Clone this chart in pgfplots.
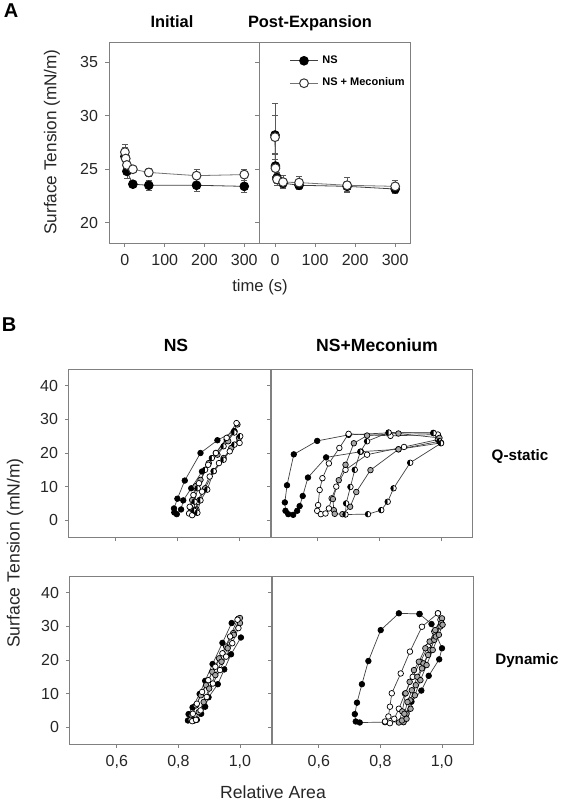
\documentclass[border=0pt]{standalone}
\usepackage{fontspec}
\setmainfont{Liberation Sans}
\usepackage{pgfplots}
\pgfplotsset{compat=1.18}
\usetikzlibrary{plotmarks}

\pgfplotsset{
  base/.style={scale only axis,
    axis line style={black!50,line width=0.5pt},
    tick style={black!50,line width=0.45pt},
    tick align=outside, major tick length=2pt,
    xtick pos=lower, ytick pos=left,
    /pgf/number format/assume math mode=true,
    tick label style={font=\fontsize{8}{9}\selectfont, text=black!85},
  },
  Aax/.style={base, width=75pt, height=100.5pt, xmin=-40, xmax=337, ymin=18.1, ymax=36.9,
    xtick={0,100,200,300}, ytick={20,25,30,35}},
  Bax/.style={base, width=101pt, height=84pt, xmin=0.448, xmax=1.104, ymin=-5, ymax=45,
    xtick={0.6,0.8,1.0}, ytick={0,10,20,30,40}},
  eb/.style={error bars/y dir=both, error bars/y explicit,
    error bars/error bar style={black!65,line width=0.4pt},
    error bars/error mark options={rotate=90, black!65, mark size=1.5pt, line width=0.4pt}},
  nsA/.style={black!75, line width=0.4pt, mark=*, mark size=2.2pt,
    mark options={fill=black, draw=black, line width=0.4pt}, eb},
  mecA/.style={black!55, line width=0.4pt, mark=*, mark size=2.2pt,
    mark options={fill=white, draw=black!80, line width=0.5pt}, eb},
  bl/.style={black!75, line width=0.35pt, mark=*, mark size=1.4pt,
    mark options={draw=black, fill=black, line width=0.35pt}},
  wh/.style={black!75, line width=0.35pt, mark=*, mark size=1.4pt,
    mark options={draw=black, fill=white, line width=0.35pt}},
  gr/.style={black!75, line width=0.35pt, mark=*, mark size=1.4pt,
    mark options={draw=black, fill=black!35, line width=0.35pt}},
  hf/.style={black!75, line width=0.35pt, mark=halfcircle*, mark size=1.4pt,
    mark options={draw=black, fill=black, rotate=90, line width=0.35pt}},
}

\begin{document}
\begin{tikzpicture}
\useasboundingbox (0pt,0pt) rectangle (281pt,-402.5pt);

% ---------------- Panel A, Initial
\begin{axis}[Aax, at={(54.5pt,-121.5pt)}, anchor=south west]
\addplot[nsA] coordinates {(0,26.2) +- (0,0.8) (5,24.8) +- (0,0.7) (20,23.6) +- (0,0.3) (60,23.5) +- (0,0.5) (180,23.5) +- (0,0.6) (300,23.4) +- (0,0.6)};
\addplot[mecA] coordinates {(0,26.6) +- (0,0.7) (2,26.0) +- (0,0.5) (5,25.4) +- (0,0.4) (20,25.0) +- (0,0.3) (60,24.7) +- (0,0.4) (180,24.4) +- (0,0.6) (300,24.5) +- (0,0.5)};
\end{axis}

% ---------------- Panel A, Post-Expansion
\begin{axis}[Aax, at={(129.5pt,-121.5pt)}, anchor=south west, width=75.5pt, yticklabels={},
  legend style={at={(0.2,0.955)}, anchor=north west, draw=none, fill=none,
    font=\bfseries\fontsize{5.5}{6.5}\selectfont, row sep=1.8pt, inner sep=0pt},
  legend cell align=left,
  legend image code/.code={\draw[mark repeat=2,mark phase=2,#1] plot coordinates {(0pt,0pt) (7pt,0pt) (14pt,0pt)};}]
\addplot[nsA] coordinates {(0,28.2) +- (0,1.8) (1,25.3) +- (0,1.2) (5,24.2) +- (0,0.5) (20,23.7) +- (0,0.4) (60,23.5) +- (0,0.4) (180,23.4) +- (0,0.5) (300,23.15) +- (0,0.4)};
\addlegendentry{NS}
\addplot[mecA] coordinates {(0,28.0) +- (0,3.2) (1,25.1) +- (0,0.8) (5,24.05) +- (0,0.6) (20,23.8) +- (0,0.6) (60,23.75) +- (0,0.6) (180,23.5) +- (0,0.7) (300,23.4) +- (0,0.6)};
\addlegendentry{NS + Meconium}
\end{axis}

% ---------------- Panel B, top left (NS, Q-static)
\begin{axis}[Bax, at={(34.5pt,-268.5pt)}, anchor=south west, xticklabels={}]
\addplot[bl] coordinates {(0.985,26.5) (0.930,23.8) (0.875,20.0) (0.824,11.8) (0.800,6.4) (0.789,3.5) (0.790,2.3) (0.798,1.8) (0.812,3.2) (0.819,5.9) (0.845,9.5) (0.880,14.5) (0.925,20.0) (0.960,24.0) (0.985,26.5)};
\addplot[gr] coordinates {(0.995,28.5) (0.965,23.5) (0.930,19.5) (0.902,17.0) (0.875,12.0) (0.859,10.1) (0.848,6.0) (0.843,3.7) (0.841,2.2) (0.850,1.8) (0.862,3.2) (0.872,6.0) (0.890,9.5) (0.918,14.6) (0.950,18.5) (0.975,21.5) (1.000,24.5)};
\addplot[wh] coordinates {(0.992,28.9) (0.960,24.5) (0.925,20.0) (0.900,16.5) (0.870,11.0) (0.852,7.5) (0.840,4.0) (0.838,2.0) (0.848,1.5) (0.858,3.0) (0.866,5.5) (0.880,8.5) (0.905,13.0) (0.935,17.0) (0.970,20.5) (1.002,23.0)};
\addplot[hf] coordinates {(0.985,26.1) (0.950,22.0) (0.912,18.5) (0.890,15.0) (0.866,9.5) (0.856,5.5) (0.855,2.8) (0.865,2.2) (0.875,5.9) (0.897,9.1) (0.918,14.6) (0.950,18.0) (0.985,22.5) (1.004,25.0)};
\end{axis}

% ---------------- Panel B, top right (NS+Meconium, Q-static)
\begin{axis}[Bax, at={(135.5pt,-268.5pt)}, anchor=south west, xticklabels={}, yticklabels={}]
\addplot[bl] coordinates {(1.000,23.0) (0.975,26.0) (0.830,26.0) (0.700,25.4) (0.598,23.6) (0.522,19.6) (0.500,10.4) (0.493,5.3) (0.495,2.8) (0.504,1.8) (0.520,1.6) (0.533,2.8) (0.541,4.2) (0.551,7.2) (0.568,12.7) (0.627,18.7) (0.740,20.4) (0.862,21.1) (1.000,23.0)};
\addplot[wh] coordinates {(0.990,25.5) (0.836,25.1) (0.700,25.7) (0.670,21.5) (0.636,16.9) (0.615,12.5) (0.606,9.0) (0.601,4.5) (0.598,2.8) (0.610,1.8) (0.625,2.0) (0.636,3.5) (0.645,6.5) (0.660,10.0) (0.690,15.0) (0.760,19.5) (0.880,21.8) (0.990,24.0)};
\addplot[gr] coordinates {(0.995,24.5) (0.862,25.8) (0.760,25.2) (0.717,22.9) (0.690,16.5) (0.668,11.9) (0.649,6.3) (0.652,3.0) (0.655,1.9) (0.680,1.8) (0.705,4.0) (0.725,8.4) (0.771,14.9) (0.862,21.1) (0.995,23.5)};
\addplot[hf] coordinates {(0.995,23.5) (0.976,25.9) (0.830,26.1) (0.760,23.5) (0.738,20.4) (0.720,15.0) (0.706,9.9) (0.692,5.0) (0.690,1.7) (0.763,1.8) (0.806,3.0) (0.827,5.5) (0.846,9.5) (0.900,17.1) (1.000,22.9)};
\end{axis}

% ---------------- Panel B, bottom left (NS, Dynamic)
\begin{axis}[Bax, at={(35pt,-372pt)}, anchor=south west,
  xticklabels={{0,6},{0,8},{1,0}}]
\addplot[bl] coordinates {(0.995,32.3) (0.973,31.0) (0.943,25.1) (0.911,18.8) (0.887,13.8) (0.869,9.9) (0.846,5.9) (0.833,3.9) (0.831,2.0) (0.860,2.2) (0.874,4.0) (0.887,6.1) (0.898,8.9) (0.928,12.8) (0.949,17.2) (0.971,21.7) (1.003,26.7)};
\addplot[gr] coordinates {(1.000,32.5) (0.978,28.0) (0.955,24.0) (0.932,20.5) (0.910,16.5) (0.890,12.5) (0.873,9.5) (0.857,6.5) (0.843,3.5) (0.840,2.2) (0.852,2.0) (0.866,4.5) (0.882,7.5) (0.900,11.5) (0.920,15.5) (0.940,19.5) (0.960,23.5) (0.980,27.5) (1.000,31.0)};
\addplot[wh] coordinates {(0.992,32.0) (0.968,27.0) (0.943,22.0) (0.920,18.0) (0.897,14.0) (0.877,10.5) (0.860,7.0) (0.847,4.0) (0.845,1.8) (0.857,2.2) (0.872,5.0) (0.892,9.0) (0.912,13.0) (0.935,17.0) (0.955,21.0) (0.975,25.0) (0.995,29.5)};
\end{axis}

% ---------------- Panel B, bottom right (NS+Meconium, Dynamic)
\begin{axis}[Bax, at={(136pt,-372pt)}, anchor=south west, yticklabels={},
  xticklabels={{0,6},{0,8},{1,0}}]
\addplot[bl] coordinates {(0.927,33.7) (0.860,33.9) (0.801,28.9) (0.761,19.7) (0.740,12.8) (0.724,7.3) (0.717,3.9) (0.720,1.7) (0.733,1.4) (0.815,1.5) (0.875,1.6) (0.901,7.6) (0.933,10.9) (0.957,15.3) (0.991,20.2) (1.000,23.5) (0.966,30.7) (0.927,33.7)};
\addplot[wh] coordinates {(0.987,33.9) (0.935,29.9) (0.896,22.5) (0.866,16.0) (0.837,10.1) (0.831,6.1) (0.826,3.2) (0.815,1.7) (0.831,1.2) (0.845,2.5) (0.860,5.5) (0.880,10.0) (0.905,15.0) (0.930,19.5) (0.955,24.0) (0.975,28.5) (0.995,32.0) (0.987,33.9)};
\addplot[gr] coordinates {(1.000,32.4) (0.978,28.9) (0.960,25.5) (0.946,23.5) (0.925,19.5) (0.909,17.0) (0.895,13.5) (0.882,10.1) (0.871,4.7) (0.860,1.4) (0.875,1.5) (0.885,4.0) (0.897,8.0) (0.915,12.5) (0.935,17.5) (0.955,21.5) (0.975,26.0) (0.995,30.0)};
\addplot[gr] coordinates {(0.998,31.0) (0.980,27.0) (0.962,23.0) (0.940,19.0) (0.920,15.0) (0.902,11.0) (0.888,7.5) (0.878,4.0) (0.870,2.0) (0.885,2.5) (0.898,5.5) (0.912,9.5) (0.930,14.0) (0.950,18.5) (0.970,23.0) (0.990,27.5) (1.002,30.5)};
\end{axis}

% ---------------- texts
\node[font=\bfseries\fontsize{10}{12}\selectfont] at (5.5pt,-5.5pt) {A};
\node[font=\bfseries\fontsize{8.2}{10}\selectfont] at (86pt,-11pt) {Initial};
\node[font=\bfseries\fontsize{8.2}{10}\selectfont] at (155pt,-11.5pt) {Post-Expansion};
\node[font=\fontsize{8.6}{10}\selectfont, rotate=90, text=black!85] at (26pt,-71pt) {Surface Tension (mN/m)};
\node[font=\fontsize{8.3}{10}\selectfont, text=black!85] at (130pt,-143.5pt) {time (s)};

\node[font=\bfseries\fontsize{10}{12}\selectfont] at (4.5pt,-162.5pt) {B};
\node[font=\bfseries\fontsize{8.8}{10}\selectfont] at (88pt,-172.5pt) {NS};
\node[font=\bfseries\fontsize{8.8}{10}\selectfont] at (188.5pt,-172.5pt) {NS+Meconium};
\node[font=\bfseries\fontsize{7.6}{9}\selectfont] at (260pt,-228pt) {Q-static};
\node[font=\bfseries\fontsize{7.6}{9}\selectfont] at (263.5pt,-330.5pt) {Dynamic};
\node[font=\fontsize{8.8}{10}\selectfont, rotate=90, text=black!85] at (7.5pt,-276.5pt) {Surface Tension (mN/m)};
\node[font=\fontsize{8.8}{10}\selectfont, text=black!85] at (136.5pt,-396pt) {Relative Area};
\end{tikzpicture}
\end{document}
